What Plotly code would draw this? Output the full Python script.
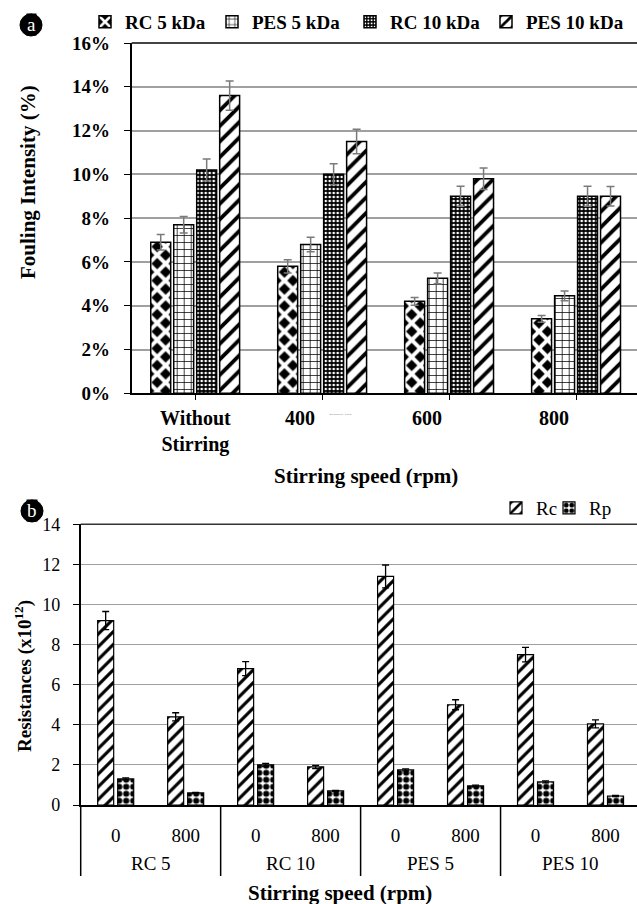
import plotly.graph_objects as go

# ---------------- Panel (a) data ----------------
speeds_a = ["Without Stirring", "400", "600", "800"]
speed_labels_a = ["Without<br>Stirring", "400", "600", "800"]
series_a = ["RC 5 kDa", "PES 5 kDa", "RC 10 kDa", "PES 10 kDa"]
rc5 = [6.9, 5.8, 4.2, 3.4]
rc5_err = [0.35, 0.30, 0.18, 0.15]
pes5 = [7.7, 6.8, 5.25, 4.45]
pes5_err = [0.38, 0.33, 0.25, 0.22]
rc10 = [10.2, 10.0, 9.0, 9.0]
rc10_err = [0.50, 0.48, 0.46, 0.46]
pes10 = [13.6, 11.5, 9.8, 9.0]
pes10_err = [0.67, 0.56, 0.49, 0.45]

# ---------------- Panel (b) data ----------------
membranes_b = ["RC 5", "RC 5", "RC 10", "RC 10", "PES 5", "PES 5", "PES 10", "PES 10"]
speeds_b = ["0", "800", "0", "800", "0", "800", "0", "800"]
series_b = ["Rc", "Rp"]
rc = [9.2, 4.4, 6.8, 1.9, 11.4, 5.0, 7.5, 4.05]
rc_err = [0.45, 0.20, 0.35, 0.08, 0.57, 0.25, 0.36, 0.20]
rp = [1.3, 0.6, 2.0, 0.7, 1.75, 0.95, 1.15, 0.45]
rp_err = [0.05, 0.03, 0.08, 0.03, 0.05, 0.04, 0.05, 0.03]

W, H = 637, 904
SERIF = "Liberation Serif"


def px(x):
    return x / W


def py(y):
    return (H - y) / H


fig = go.Figure()

# panel a bars
vals_a = [rc5, pes5, rc10, pes10]
errs_a = [rc5_err, pes5_err, rc10_err, pes10_err]
patterns_a = [
    dict(shape="x", fgcolor="white", bgcolor="black", size=12, solidity=0.55, fgopacity=1),
    dict(shape="+", fgcolor="black", bgcolor="white", size=7, solidity=0.2, fgopacity=1),
    dict(shape=".", fgcolor="white", bgcolor="black", size=4, solidity=0.35, fgopacity=1),
    dict(shape="/", fgcolor="black", bgcolor="white", size=11, solidity=0.35, fgopacity=1),
]
legend_ids_a = ["legend", "legend2", "legend3", "legend4"]
bw_a = 0.157
pitch_a = 0.181
xa = list(range(len(speeds_a)))
for i, (name, v, e, pat) in enumerate(zip(series_a, vals_a, errs_a, patterns_a)):
    center = (i - 1.5) * pitch_a
    fig.add_trace(go.Bar(
        x=xa, y=[a / 100 for a in v], name=name,
        xaxis="x", yaxis="y", legend=legend_ids_a[i],
        width=bw_a, offset=center - bw_a / 2,
        marker=dict(color="white", line=dict(color="black", width=1.5), pattern=pat),
        error_y=dict(type="data", array=[a / 100 for a in e], color="#7a7a7a", thickness=1.5, width=4),
    ))

# panel b bars
bw_b = 0.229
pitch_b = 0.286
patterns_b = [
    dict(shape="/", fgcolor="black", bgcolor="white", size=9, solidity=0.35, fgopacity=1),
    dict(shape=".", fgcolor="black", bgcolor="white", size=7, solidity=0.6, fgopacity=1),
]
legend_ids_b = ["legend5", "legend6"]
xb = list(range(len(speeds_b)))
for i, (name, v, e, pat) in enumerate(zip(series_b, [rc, rp], [rc_err, rp_err], patterns_b)):
    center = (i - 0.5) * pitch_b
    fig.add_trace(go.Bar(
        x=xb, y=v, name=name,
        xaxis="x2", yaxis="y2", legend=legend_ids_b[i],
        width=bw_b, offset=center - bw_b / 2,
        marker=dict(color="white", line=dict(color="black", width=1.2), pattern=pat),
        error_y=dict(type="data", array=e, color="black", thickness=1.3, width=3.5),
    ))

annotations = []
# panel a category labels
for i, lab in enumerate(speed_labels_a):
    annotations.append(dict(
        x=i, xref="x", y=py(405), yref="paper", yanchor="top", xanchor="center",
        text="<b>" + lab + "</b>", showarrow=False,
        xshift=0 if i == 0 else -22,
        font=dict(family=SERIF, size=20, color="black"),
    ))
annotations.append(dict(x=1, xref="x", y=py(414), yref="paper", xshift=18,
                        xanchor="center", yanchor="middle",
                        text="------ ---", showarrow=False,
                        font=dict(family=SERIF, size=7, color="#888")))

# panel b group labels and dividers (derived from the membrane list)
shapes = []
groups = []
for i, m in enumerate(membranes_b):
    if not groups or groups[-1][0] != m:
        groups.append([m, i, i])
    else:
        groups[-1][2] = i
for m, i0, i1 in groups:
    annotations.append(dict(x=(i0 + i1) / 2, xref="x2", y=py(863), yref="paper",
                            xanchor="center", yanchor="middle", text=m, showarrow=False,
                            font=dict(family=SERIF, size=19, color="black")))
    if i0 == 0:
        shapes.append(dict(type="line", xref="paper", yref="paper", x0=px(80.7), x1=px(80.7),
                           y0=py(805), y1=py(876), line=dict(color="black", width=1.5)))
    else:
        shapes.append(dict(type="line", xref="x2", yref="paper", x0=i0 - 0.5, x1=i0 - 0.5,
                           y0=py(805), y1=py(876), line=dict(color="black", width=1.5)))

# titles & panel letters
annotations += [
    dict(x=px(366), y=py(476), xref="paper", yref="paper", text="<b>Stirring speed (rpm)</b>",
         xanchor="center", yanchor="middle",
         showarrow=False, font=dict(family=SERIF, size=21, color="black")),
    dict(x=px(28), y=py(182), xref="paper", yref="paper", text="<b>Fouling Intensity (%)</b>",
         xanchor="center", yanchor="middle",
         textangle=-90, showarrow=False, font=dict(family=SERIF, size=21, color="black")),
    dict(x=px(340), y=py(893), xref="paper", yref="paper", text="<b>Stirring speed (rpm)</b>",
         xanchor="center", yanchor="middle",
         showarrow=False, font=dict(family=SERIF, size=21, color="black")),
    dict(x=px(23), y=py(676), xref="paper", yref="paper", text="<b>Resistances (x10<sup>12</sup>)</b>",
         xanchor="center", yanchor="middle",
         textangle=-90, showarrow=False, font=dict(family=SERIF, size=19, color="black")),
    dict(x=px(31), y=py(25), xref="paper", yref="paper", text="a",
         xanchor="center", yanchor="middle", bgcolor="black", borderpad=0,
         showarrow=False, font=dict(family=SERIF, size=19, color="white")),
    dict(x=px(32), y=py(511), xref="paper", yref="paper", text="b",
         xanchor="center", yanchor="middle", bgcolor="black", borderpad=0,
         showarrow=False, font=dict(family=SERIF, size=19, color="white")),
]

shapes += [
    dict(type="circle", xref="paper", yref="paper", x0=px(20), x1=px(42), y0=py(36), y1=py(14),
         fillcolor="black", line=dict(color="black", width=1), layer="below"),
    dict(type="circle", xref="paper", yref="paper", x0=px(21), x1=px(43), y0=py(522), y1=py(500),
         fillcolor="black", line=dict(color="black", width=1), layer="below"),
    dict(type="line", xref="x domain", yref="y domain", x0=0, x1=1, y0=1, y1=1,
         line=dict(color="#444", width=1.8)),
    dict(type="line", xref="x2 domain", yref="y2 domain", x0=0, x1=1, y0=1, y1=1,
         line=dict(color="#333", width=1.6)),
]

legend_style_a = dict(orientation="h", xanchor="left", yanchor="middle", bgcolor="rgba(0,0,0,0)",
                      font=dict(family=SERIF, size=19, color="black", weight="bold"))
legend_style_b = dict(orientation="h", xanchor="left", yanchor="middle", bgcolor="rgba(0,0,0,0)",
                      font=dict(family=SERIF, size=19, color="black"))
icon_x_a = [101, 228, 366, 502]
icon_x_b = [512, 565]

layout_legends = {}
for lid, ix in zip(legend_ids_a, icon_x_a):
    layout_legends[lid] = dict(legend_style_a, x=px(ix - 16), y=py(22))
for lid, ix in zip(legend_ids_b, icon_x_b):
    layout_legends[lid] = dict(legend_style_b, x=px(ix - 16), y=py(508))

fig.update_layout(
    width=W, height=H,
    margin=dict(l=0, r=0, t=0, b=0, autoexpand=False),
    paper_bgcolor="white", plot_bgcolor="white",
    barmode="group",
    showlegend=True,
    xaxis=dict(domain=[px(131.7), 1.0], anchor="y", type="linear",
               range=[-0.5, 3.48], showticklabels=False,
               tickmode="array", tickvals=xa,
               ticks="outside", ticklen=5, tickcolor="black",
               showline=True, linecolor="black", linewidth=1.8, showgrid=False, zeroline=False),
    yaxis=dict(domain=[py(393.3), py(43)], anchor="x", range=[0, 0.16], dtick=0.02,
               tickformat=".0%", showline=True, linecolor="black", linewidth=1.8,
               ticks="outside", ticklen=6, tickcolor="black", ticklabelstandoff=10,
               gridcolor="#a0a0a0", gridwidth=1.5, zeroline=False,
               tickfont=dict(family=SERIF, size=19, color="black", weight="bold")),
    xaxis2=dict(domain=[px(80.7), 1.0], anchor="y2", type="linear",
                range=[-0.5, 7.45], tickmode="array", tickvals=xb, ticktext=speeds_b,
                ticks="", showline=True, linecolor="black", linewidth=1.6,
                showgrid=False, zeroline=False, ticklabelstandoff=12,
                tickfont=dict(family=SERIF, size=19, color="black")),
    yaxis2=dict(domain=[py(805), py(524.3)], anchor="x2", range=[0, 14], dtick=2,
                showline=True, linecolor="black", linewidth=1.6,
                ticks="outside", ticklen=6, tickcolor="black", ticklabelstandoff=9,
                gridcolor="#a0a0a0", gridwidth=1.3, zeroline=False,
                tickfont=dict(family=SERIF, size=18, color="black")),
    annotations=annotations,
    shapes=shapes,
    **layout_legends,
)

fig.write_html("out.html", config={"displayModeBar": False},
               post_script="document.body.style.margin='0';")
